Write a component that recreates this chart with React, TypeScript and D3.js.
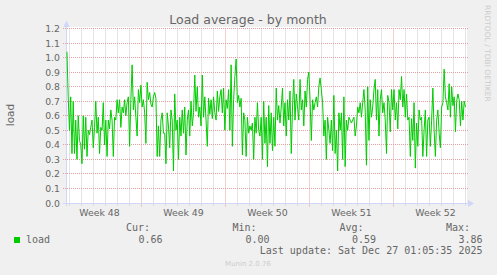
import React from "react";
import * as d3 from "d3";

const title = "Load average - by month";
const yAxisLabel = "load";
const yTickValues = [0, 0.1, 0.2, 0.3, 0.4, 0.5, 0.6, 0.7, 0.8, 0.9, 1.0, 1.1, 1.2];
const seriesName = "load";
const statLabels = ["Cur:", "Min:", "Avg:", "Max:"];
const statValues = ["0.66", "0.00", "0.59", "3.86"];
const lastUpdate = "Last update: Sat Dec 27 01:05:35 2025";
const watermark = "RRDTOOL / TOBI OETIKER";
const footer = "Munin 2.0.76";

// load values, week by week
const loadA = [1.04, 0.73, 0.50, 0.73, 0.34, 0.70, 0.34, 0.57, 0.30, 0.60, 0.43, 0.40, 0.27, 0.60, 0.37, 0.59, 0.32, 0.50, 0.47, 0.52, 0.57, 0.38, 0.52, 0.70, 0.48, 0.59, 0.34, 0.52, 0.50, 0.69, 0.40, 0.57, 0.32, 0.57, 0.51, 0.64, 0.57, 0.32, 0.59, 0.57, 0.71, 0.62, 0.71, 0.52, 0.66, 0.62, 0.71, 0.60, 0.69, 0.73, 0.39, 0.71, 0.95, 0.64, 0.73, 0.59, 0.46, 0.78, 0.69, 0.81, 0.66, 0.71, 0.62, 0.41, 0.83, 0.71, 0.76, 0.68, 0.66, 0.73, 0.76, 0.72, 0.32, 0.53, 0.32, 0.57, 0.62, 0.48];
const loadB = [0.48, 0.27, 0.62, 0.53, 0.38, 0.64, 0.57, 0.22, 0.75, 0.50, 0.57, 0.30, 0.59, 0.46, 0.64, 0.48, 0.66, 0.33, 0.57, 0.64, 0.46, 0.70, 0.53, 0.62, 0.88, 0.63, 0.80, 0.59, 0.66, 0.53, 0.88, 0.59, 0.73, 0.57, 0.39, 0.72, 0.61, 0.71, 0.58, 0.73, 0.62, 0.57, 0.77, 0.63, 0.73, 0.78, 0.62, 0.79, 0.50, 0.71, 0.65, 0.78, 0.50, 0.95, 0.39, 0.71, 0.87, 0.99, 0.69, 0.74, 0.66, 0.72, 0.33, 0.62, 0.57, 0.32, 0.59, 0.48, 0.53, 0.50, 0.55, 0.30, 0.59, 0.48, 0.69, 0.50, 0.46, 0.59, 0.30, 0.70, 0.41, 0.59];
const loadC = [0.25, 0.67, 0.41, 0.62, 0.36, 0.59, 0.39, 0.79, 0.57, 0.67, 0.55, 0.66, 0.79, 0.53, 0.69, 0.46, 0.71, 0.57, 0.77, 0.34, 0.66, 0.85, 0.57, 0.75, 0.66, 0.57, 0.85, 0.64, 0.71, 0.53, 0.77, 0.66, 0.85, 0.90, 0.71, 0.43, 0.71, 0.64, 0.69, 0.73, 0.66, 0.80, 0.86, 0.78, 0.69, 0.46, 0.57, 0.30, 0.59, 0.50, 0.41, 0.57, 0.36, 0.74, 0.34, 0.50, 0.22, 0.62, 0.50, 0.62, 0.30, 0.73, 0.25, 0.57, 0.50, 0.59, 0.57, 0.55, 0.57, 0.59, 0.46, 0.53, 0.66, 0.62, 0.69, 0.59, 0.69, 0.78];
const loadD = [0.64, 0.26, 0.80, 0.43, 0.71, 0.59, 0.66, 0.78, 0.85, 0.57, 0.78, 0.46, 0.71, 0.78, 0.62, 0.69, 0.57, 0.34, 0.74, 0.69, 0.49, 0.78, 0.64, 0.78, 0.57, 0.69, 0.51, 0.78, 0.71, 0.87, 0.66, 0.78, 0.59, 0.75, 0.57, 0.59, 0.32, 0.58, 0.43, 0.69, 0.24, 0.55, 0.39, 0.64, 0.57, 0.59, 0.32, 0.50, 0.64, 0.32, 0.57, 0.59, 0.39, 0.57, 0.79, 0.50, 0.32, 0.57, 0.64, 0.48, 0.38, 0.66, 0.69, 0.92, 0.73, 0.69, 0.64, 0.82, 0.59, 0.80, 0.67, 0.73, 0.49, 0.70, 0.75, 0.71, 0.53, 0.70, 0.57, 0.70, 0.66];
const loadValues = [...loadA, ...loadB, ...loadC, ...loadD];

const graphEnd = new Date(2025, 11, 27, 1, 5, 35);
const graphHours = 800;
const dataStart = new Date(2025, 10, 23, 19, 0, 0);
const dataEnd = new Date(2025, 11, 27, 0, 0, 0);

const FONT = "'DejaVu Sans', sans-serif";
const MONO = "'DejaVu Sans Mono', monospace";
const TXT = "#666666";

export default function App() {
  const W = 497, H = 275;
  const x0 = 66, x1 = 466, yTop = 28.5, yBot = 203;
  const start = new Date(graphEnd.getTime() - graphHours * 3600 * 1000);
  const x = d3.scaleTime().domain([start, graphEnd]).range([x0, x1]);
  const y = d3.scaleLinear().domain([0, 1.2]).range([yBot, yTop]);

  const n = loadValues.length;
  const tA = dataStart.getTime(), tB = dataEnd.getTime();
  const pts = loadValues.map((v, i) => ({ t: new Date(tA + ((tB - tA) * i) / (n - 1)), v }));
  const line = d3.line<{ t: Date; v: number }>().x((d) => x(d.t)).y((d) => y(d.v));

  const minorDays = d3.timeDay.range(start, graphEnd).filter((d) => d.getDay() !== 0);
  const majorWeeks = d3.timeSunday.range(start, graphEnd);
  const labelTimes = d3.timeSunday
    .range(d3.timeSunday.offset(start, -1), graphEnd)
    .map((d) => d3.timeHour.offset(d, 84))
    .filter((d) => x(d) > x0 + 20 && x(d) < x1);
  const fmtWeek = d3.timeFormat("%V");
  const snap = (v: number) => Math.floor(v) + 0.5;

  const statX = [150, 256.5, 363.5, 470];
  const valX = [162.5, 269.5, 376, 482.5];

  return (
    <svg width={W} height={H} style={{ position: "absolute", left: 0, top: 0 }}>
      <rect x={0} y={0} width={W} height={H} fill="#F0F0F0" />
      <text x={248} y={24} textAnchor="middle" fontFamily={FONT} fontSize={12.5} fill={TXT}>{title}</text>
      <rect x={67} y={27} width={400} height={176} fill="#FFFFFF" />
      {/* minor vertical grid */}
      {minorDays.map((d, i) => (
        <line key={"mv" + i} x1={snap(x(d))} x2={snap(x(d))} y1={yTop} y2={206} stroke="#c8c8c8" strokeWidth={1} strokeDasharray="1,1" />
      ))}
      {/* horizontal grid */}
      {yTickValues.map((t, i) => (
        <line key={"hg" + i} x1={63} x2={468} y1={snap(y(t))} y2={snap(y(t))} stroke="#e4a0a0" strokeWidth={1} strokeDasharray="1,1" />
      ))}
      {/* major vertical grid */}
      {majorWeeks.map((d, i) => (
        <line key={"MV" + i} x1={snap(x(d))} x2={snap(x(d))} y1={yTop} y2={207} stroke="#e4a0a0" strokeWidth={1} strokeDasharray="1,1" />
      ))}
      {/* axes */}
      <line x1={63} x2={469} y1={203.5} y2={203.5} stroke="#CFD6F8" strokeWidth={1} />
      <line x1={66.5} x2={66.5} y1={206} y2={25} stroke="#CFD6F8" strokeWidth={1} />
      <path d="M468,200 L474,203.5 L468,207 Z" fill="#CFD6F8" />
      <path d="M63.5,27 L66.5,20.5 L69.5,27 Z" fill="#CFD6F8" />
      {/* data */}
      <path d={line(pts) || ""} fill="none" stroke="#00CC00" strokeWidth={1} />
      {/* y tick labels */}
      {yTickValues.map((t, i) => (
        <text key={"yl" + i} x={60} y={y(t) + 3.5} textAnchor="end" fontFamily={FONT} fontSize={9.3} fill={TXT}>{t.toFixed(1)}</text>
      ))}
      {/* week labels */}
      {labelTimes.map((d, i) => (
        <text key={"wl" + i} x={x(d)} y={215.5} textAnchor="middle" fontFamily={FONT} fontSize={9.4} fill={TXT}>{"Week " + +fmtWeek(d)}</text>
      ))}
      <text transform="translate(14,115) rotate(-90)" textAnchor="middle" fontFamily={FONT} fontSize={10.5} fill={TXT}>{yAxisLabel}</text>
      <text transform="translate(485,5) rotate(90)" fontFamily={FONT} fontSize={7.5} fill="#cccccc">{watermark}</text>
      {/* legend */}
      <rect x={14} y={237} width={6} height={6} fill="#00CC00" />
      <text x={26} y={243} fontFamily={MONO} fontSize={10} fill={TXT}>{seriesName}</text>
      {statLabels.map((s, i) => (
        <text key={"sl" + i} x={statX[i]} y={231} textAnchor="end" fontFamily={MONO} fontSize={10} fill={TXT}>{s}</text>
      ))}
      {statValues.map((s, i) => (
        <text key={"sv" + i} x={valX[i]} y={243} textAnchor="end" fontFamily={MONO} fontSize={10} fill={TXT}>{s}</text>
      ))}
      <text x={482.5} y={254} textAnchor="end" fontFamily={MONO} fontSize={10} fill={TXT}>{lastUpdate}</text>
      <text x={248} y={266} textAnchor="middle" fontFamily={FONT} fontSize={7} fill="#cccccc">{footer}</text>
    </svg>
  );
}
